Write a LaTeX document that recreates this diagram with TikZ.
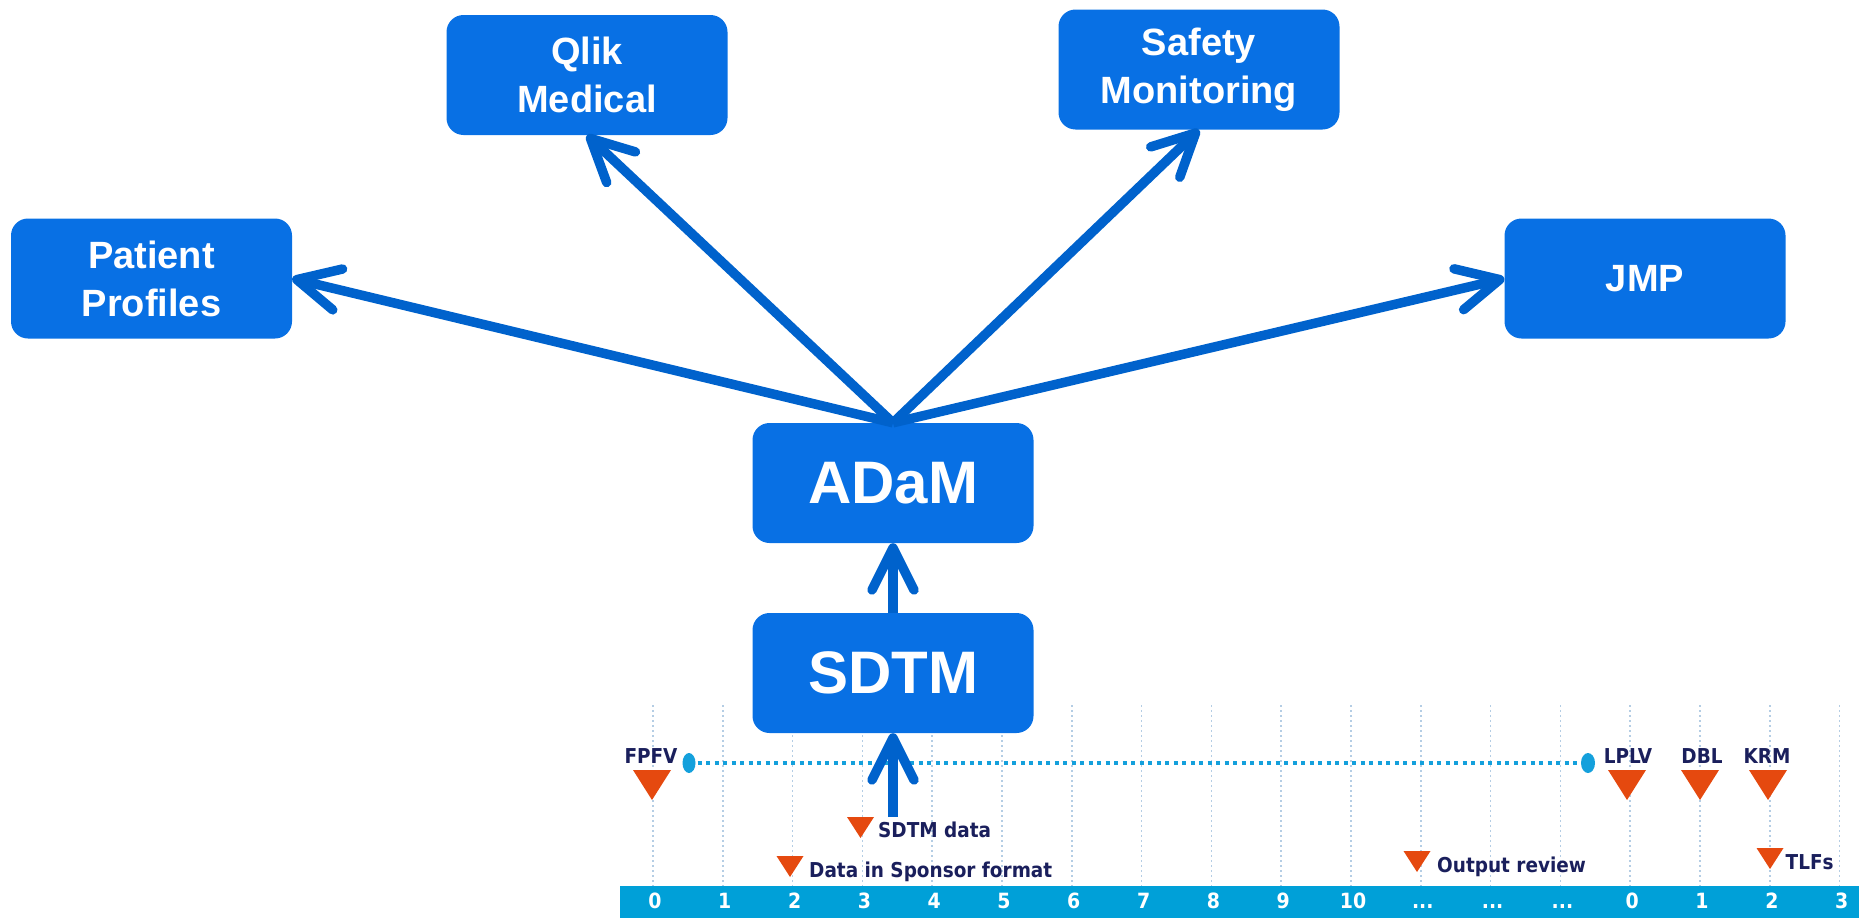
\documentclass[tikz,border=0pt]{standalone}
\usepackage{fontspec}
\setmainfont{Liberation Sans}
\newfontfamily\tlfont{DejaVu Sans Condensed}
\usetikzlibrary{arrows.meta,shapes.geometric}
\definecolor{boxblue}{HTML}{0870E4}
\definecolor{arrowblue}{HTML}{0062CC}
\definecolor{barblue}{HTML}{00A0D8}
\definecolor{dotblue}{HTML}{14A0DC}
\definecolor{gridblue}{HTML}{B4CDE4}
\definecolor{triorange}{HTML}{E5490F}
\definecolor{navy}{HTML}{1A1F5C}
\begin{document}
\begin{tikzpicture}[x=1pt,y=-1pt,
  box/.style={fill=boxblue, rounded corners=17pt, minimum width=281pt, minimum height=120pt,
    inner sep=0pt, text=white, align=center, font=\bfseries\fontsize{38}{48}\selectfont},
  bigbox/.style={box, font=\bfseries\fontsize{60}{72}\selectfont},
  flow/.style={draw=arrowblue, line width=9.5pt, -{Straight Barb[length=42pt,width=42pt,round]}},
  gridline/.style={draw=gridblue, line width=1.5pt, dash pattern=on 2pt off 3pt},
  tlline/.style={draw=dotblue, line width=4pt, dash pattern=on 4pt off 4.5pt},
  lbl/.style={text=navy, inner sep=0pt, font=\tlfont\bfseries\fontsize{20.5}{24}\selectfont},
  tick/.style={text=white, inner sep=0pt, anchor=base, font=\tlfont\bfseries\fontsize{21}{24}\selectfont},
  bigtri/.pic={\fill[triorange] (-19,0) -- (19,0) -- (0,30) -- cycle;},
  smalltri/.pic={\fill[triorange] (-13.5,0) -- (13.5,0) -- (0,21) -- cycle;}
  ]
\useasboundingbox (0,0) rectangle (1859,918);

% timeline grid
\foreach \k in {0,...,17} {
  \draw[gridline] ({653+69.8*\k},705) -- ({653+69.8*\k},886);
}
% study period line
\draw[tlline] (689,763) -- (1588,763);
\fill[dotblue] (689,763) ellipse [x radius=6.5pt, y radius=10pt];
\fill[dotblue] (1588,763) ellipse [x radius=7pt, y radius=10pt];

% milestones
\pic at (652,770) {bigtri};
\pic at (1627,770) {bigtri};
\pic at (1700,770) {bigtri};
\pic at (1768,770) {bigtri};
\pic at (860.5,817) {smalltri};
\pic at (790,856) {smalltri};
\pic at (1417,851) {smalltri};
\pic at (1770,848) {smalltri};

\node[lbl, anchor=base] (fpfv) at (651,763) {FPFV};
\node[lbl, anchor=base] (lplv) at (1628,763) {LPLV};
\node[lbl, anchor=base] (dbl) at (1702,763) {DBL};
\node[lbl, anchor=base] (krm) at (1767,763) {KRM};
\node[lbl, anchor=base west] (sdtmdata) at (878,837) {SDTM data};
\node[lbl, anchor=base west] (sponsor) at (809,877) {Data in Sponsor format};
\node[lbl, anchor=base west] (review) at (1437,872) {Output review};
\node[lbl, anchor=base west] (tlfs) at (1785.5,869) {TLFs};

% bar
\fill[barblue] (620,886) rectangle (1859,918);
\foreach \k/\t in {0/0,1/1,2/2,3/3,4/4,5/5,6/6,7/7,8/8,9/9,10/10,14/0,15/1,16/2,17/3} {
  \node[tick] (t\k) at ({655+69.8*\k},908) {\t};
}
\node[tick] (t11) at ({655+69.8*11},908) {...};
\node[tick] (t12) at ({655+69.8*12},908) {...};
\node[tick] (t13) at ({655+69.8*13},908) {...};

% boxes
\node[box] (pp) at (151.5,278.5) {Patient\\Profiles};
\node[box] (qlik) at (587,75) {Qlik\\Medical};
\node[box] (safety) at (1199,69.5) {Safety\\Monitoring};
\node[box] (jmp) at (1645,278.5) {JMP};
\node[bigbox] (adam) at (893,483) {ADaM};
\node[bigbox] (sdtm) at (893,673) {SDTM};

% connectors
\coordinate (src) at (893,817);
\draw[flow] (src) -- (sdtm.south);
\draw[flow] (sdtm.north) -- (adam.south);
\draw[flow] (adam.north) -- (pp.east);
\draw[flow] (adam.north) -- (qlik.south);
\draw[flow] (adam.north) -- (safety.south);
\draw[flow] (adam.north) -- (jmp.west);
\end{tikzpicture}
\end{document}
